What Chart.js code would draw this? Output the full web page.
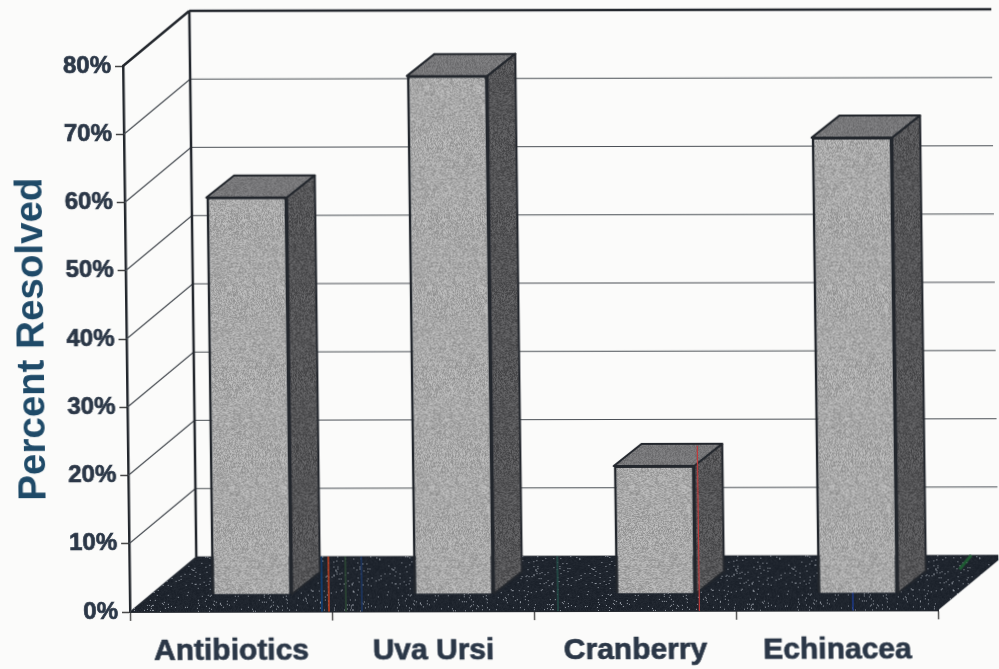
<!DOCTYPE html>
<html>
<head>
<meta charset="utf-8">
<title>Percent Resolved</title>
<script src="https://cdn.jsdelivr.net/npm/chart.js@4"></script>
<style>
  html, body { margin: 0; padding: 0; background: #fbfbfa; overflow: hidden; }
  /* the reference is a slightly skewed scan, so the whole canvas gets the same shear */
  #chart { display: block; transform-origin: 0 0; transform: matrix(1, -0.002, 0.0128, 1, -7.83, 0.26); }
</style>
</head>
<body>
<canvas id="chart" width="999" height="669"></canvas>
<script>
var categories = ['Antibiotics', 'Uva Ursi', 'Cranberry', 'Echinacea'];
var percentResolved = [58.2, 75.95, 18.75, 66.8];
var yTicks = [0, 10, 20, 30, 40, 50, 60, 70, 80];

var TEXT_COLOR = '#2b3747';
var TITLE_COLOR = '#1f4a68';
var LINE_COLOR = '#23272d';
var FONT = '"Liberation Sans", Arial, sans-serif';

// Depth of the box and of the bars, in pixels
var WALL_DX = 67, WALL_DY = -55;
var BAR_SHIFT_X = 21, BAR_SHIFT_Y = -17;
var BAR_DX = 28, BAR_DY = -22;

// Speckled fill, like the halftone of the printed chart
function speckle(base, spread, dots) {
  var c = document.createElement('canvas');
  c.width = c.height = 200;
  var g = c.getContext('2d');
  var img = g.createImageData(200, 200);
  var seed = 12345;
  for (var i = 0; i < img.data.length; i += 4) {
    seed = (seed + 0x6d2b79f5) | 0;
    var h = Math.imul(seed ^ (seed >>> 15), 1 | seed);
    h = (h + Math.imul(h ^ (h >>> 7), 61 | h)) ^ h;
    var r = ((h ^ (h >>> 14)) >>> 0) / 4294967296;
    var v = r < dots ? 120 : (r - 0.5) * spread;
    img.data[i] = base[0] + v;
    img.data[i + 1] = base[1] + v;
    img.data[i + 2] = base[2] + v;
    img.data[i + 3] = 255;
  }
  g.putImageData(img, 0, 0);
  return document.createElement('canvas').getContext('2d').createPattern(c, 'repeat');
}

var frontFill = speckle([168, 168, 168], 55, 0);
var sideFill = speckle([84, 84, 86], 45, 0);
var topFill = speckle([118, 118, 120], 30, 0);
var floorFill = speckle([30, 36, 45], 12, 0.03);

function poly(ctx, pts, fill, stroke, width) {
  ctx.beginPath();
  ctx.moveTo(pts[0][0], pts[0][1]);
  for (var i = 1; i < pts.length; i++) ctx.lineTo(pts[i][0], pts[i][1]);
  ctx.closePath();
  if (fill) { ctx.fillStyle = fill; ctx.fill(); }
  if (stroke) { ctx.strokeStyle = stroke; ctx.lineWidth = width; ctx.lineJoin = 'round'; ctx.stroke(); }
}

function segment(ctx, x1, y1, x2, y2, color, width) {
  ctx.beginPath();
  ctx.moveTo(x1, y1);
  ctx.lineTo(x2, y2);
  ctx.strokeStyle = color;
  ctx.lineWidth = width;
  ctx.stroke();
}

var box3d = {
  id: 'box3d',
  // Walls, gridlines and floor behind the bars
  beforeDatasetsDraw: function (chart) {
    var ctx = chart.ctx, y = chart.scales.y, a = chart.chartArea;
    ctx.save();
    yTicks.forEach(function (t) {
      var py = y.getPixelForValue(t);
      var top = t === yTicks[yTicks.length - 1];
      var w = top ? 2.5 : 1.2;
      var color = top ? LINE_COLOR : '#4a4f55';
      segment(ctx, a.left, py, a.left + WALL_DX, py + WALL_DY, color, w);
      segment(ctx, a.left + WALL_DX, py + WALL_DY, a.right + WALL_DX, py + WALL_DY, color, w);
    });
    segment(ctx, a.left + WALL_DX, a.top + WALL_DY, a.left + WALL_DX, a.bottom + WALL_DY, LINE_COLOR, 2.5);
    poly(ctx, [
      [a.left, a.bottom], [a.right, a.bottom],
      [a.right + WALL_DX, a.bottom + WALL_DY], [a.left + WALL_DX, a.bottom + WALL_DY]
    ], floorFill);
    // colour streaks the scanner left on the floor
    var top = a.bottom + WALL_DY;
    segment(ctx, 329, top, 329, a.bottom, '#c8401f', 1.5);
    segment(ctx, 322, top, 322, a.bottom, '#123a6a', 2);
    segment(ctx, 346, top, 346, a.bottom, '#2d4a35', 1.5);
    segment(ctx, 362, top, 362, a.bottom, '#1d3766', 1.5);
    segment(ctx, 558, top, 558, a.bottom, '#24504a', 1.5);
    segment(ctx, 853, a.bottom - 18, 853, a.bottom, '#1d3a8a', 1.5);
    segment(ctx, 972, top, 960, top + 14, '#1f5a33', 3);
    ctx.restore();
  },
  // Top and side of each bar, then the face itself moved onto the middle of the floor
  beforeDatasetDraw: function (chart, args) {
    var ctx = chart.ctx;
    ctx.save();
    ctx.translate(BAR_SHIFT_X, BAR_SHIFT_Y);
    args.meta.data.forEach(function (bar) {
      var l = bar.x - bar.width / 2, r = bar.x + bar.width / 2;
      poly(ctx, [[l, bar.y], [r, bar.y], [r + BAR_DX, bar.y + BAR_DY], [l + BAR_DX, bar.y + BAR_DY]], topFill, LINE_COLOR, 2);
      poly(ctx, [[r, bar.y], [r + BAR_DX, bar.y + BAR_DY], [r + BAR_DX, bar.base + BAR_DY], [r, bar.base]], sideFill, LINE_COLOR, 2);
    });
  },
  afterDatasetDraw: function (chart, args) {
    var ctx = chart.ctx;
    ctx.restore();
    // red streak over the cranberry bar
    var bar = args.meta.data[2];
    segment(ctx, bar.x + bar.width / 2 + BAR_SHIFT_X + 3, bar.y + BAR_SHIFT_Y - 20, bar.x + bar.width / 2 + BAR_SHIFT_X + 3, chart.chartArea.bottom, '#c23a3a', 1.2);
  }
};

document.addEventListener('DOMContentLoaded', function () {
  new Chart(document.getElementById('chart'), {
    type: 'bar',
    data: {
      labels: categories,
      datasets: [{
        data: percentResolved,
        backgroundColor: frontFill,
        borderColor: LINE_COLOR,
        borderWidth: { top: 2, left: 3, right: 3, bottom: 0 },
        categoryPercentage: 0.4,
        barPercentage: 1,
        clip: false
      }]
    },
    options: {
      responsive: false,
      animation: false,
      layout: { padding: { top: 66, right: 61, left: 0, bottom: 0 } },
      plugins: { legend: { display: false }, tooltip: { enabled: false } },
      scales: {
        x: {
          afterFit: function (scale) { scale.height = 57; },
          border: { color: LINE_COLOR, width: 2 },
          grid: { drawOnChartArea: false, tickColor: '#555', tickLength: 9, tickWidth: 1.5 },
          ticks: {
            color: TEXT_COLOR,
            padding: 13,
            maxRotation: 0,
            textStrokeColor: TEXT_COLOR,
            textStrokeWidth: 0.7,
            font: { family: FONT, size: 30, weight: 'bold' }
          }
        },
        y: {
          min: 0,
          max: 80,
          afterFit: function (scale) { scale.width = 130; },
          afterBuildTicks: function (scale) { scale.ticks = yTicks.map(function (v) { return { value: v }; }); },
          border: { color: LINE_COLOR, width: 2.5 },
          grid: { drawOnChartArea: false, tickColor: '#444', tickLength: 8, tickWidth: 1.5 },
          ticks: {
            color: TEXT_COLOR,
            padding: 4,
            textStrokeColor: TEXT_COLOR,
            textStrokeWidth: 0.7,
            font: { family: FONT, size: 24, weight: 'bold' },
            callback: function (v) { return v + '%'; }
          },
          title: {
            display: true,
            text: 'Percent Resolved',
            color: TITLE_COLOR,
            padding: { top: 13, bottom: 0 },
            font: { family: FONT, size: 38.5, weight: 'bold' }
          }
        }
      }
    },
    plugins: [box3d]
  });
});
</script>
</body>
</html>
